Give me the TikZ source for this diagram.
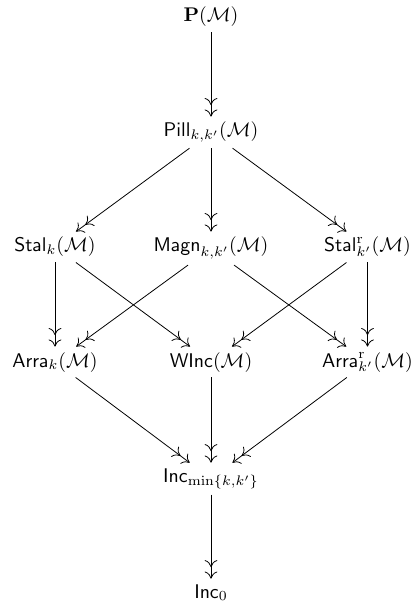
\documentclass[tikz,border=0pt]{standalone}
\usetikzlibrary{arrows.meta}
\begin{document}
\begin{tikzpicture}[x=0.505pt,y=-0.505pt,
  lbl/.style={inner sep=2.6pt,anchor=base},
  surj/.style={-{To[length=3.6pt,width=6.4pt,sep=2.2pt]To[length=3.6pt,width=6.4pt]}, line width=0.4pt}]
\useasboundingbox (0,0) rectangle (413,607);
\node[lbl] (P) at (211,22) {$\mathbf{P}(\mathcal{M})$};
\node[lbl] (Pill) at (211,137) {$\mathsf{Pill}_{k,k'}(\mathcal{M})$};
\node[lbl] (Stal) at (55,252) {$\mathsf{Stal}_k(\mathcal{M})$};
\node[lbl] (Magn) at (211,252) {$\mathsf{Magn}_{k,k'}(\mathcal{M})$};
\node[lbl] (StalR) at (367.5,252) {$\mathsf{Stal}^{\mathrm{r}}_{k'}(\mathcal{M})$};
\node[lbl] (Arra) at (55,367) {$\mathsf{Arra}_k(\mathcal{M})$};
\node[lbl] (WInc) at (211,367) {$\mathsf{WInc}(\mathcal{M})$};
\node[lbl] (ArraR) at (367.5,367) {$\mathsf{Arra}^{\mathrm{r}}_{k'}(\mathcal{M})$};
\node[lbl] (IncMin) at (211,482) {$\mathsf{Inc}_{\min\{k,k'\}}$};
\node[lbl] (Inc0) at (211,598) {$\mathsf{Inc}_0$};
\draw[surj] (P) -- (Pill);
\draw[surj] (Pill) -- (Stal);
\draw[surj] (Pill) -- (Magn);
\draw[surj] (Pill) -- (StalR);
\draw[surj] (Stal) -- (Arra);
\draw[surj] (Stal) -- (WInc);
\draw[surj] (Magn) -- (Arra);
\draw[surj] (Magn) -- (ArraR);
\draw[surj] (StalR) -- (WInc);
\draw[surj] (StalR) -- (ArraR);
\draw[surj] (Arra) -- (IncMin);
\draw[surj] (WInc) -- (IncMin);
\draw[surj] (ArraR) -- (IncMin);
\draw[surj] (IncMin) -- (Inc0);
\end{tikzpicture}
\end{document}
